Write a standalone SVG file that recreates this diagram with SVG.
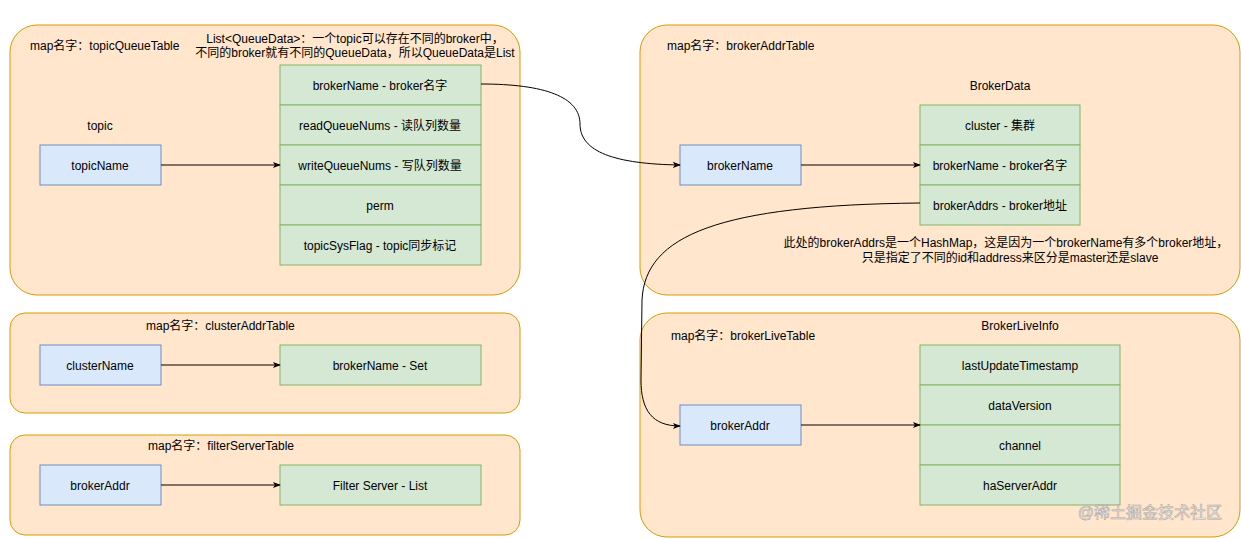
<svg xmlns="http://www.w3.org/2000/svg" width="1241" height="539" viewBox="0 0 1241 539">
<defs>
<style>
.cont{fill:#FFE6CC;stroke:#D79B00;stroke-width:1}
.key{fill:#DAE8FC;stroke:#6C8EBF;stroke-width:1}
.val{fill:#D5E8D4;stroke:#82B366;stroke-width:1}
text{font-family:"Liberation Sans","Noto Sans CJK SC",sans-serif;font-size:12px;fill:#000}
.c{text-anchor:middle}
.edge{fill:none;stroke:#000;stroke-width:1;marker-end:url(#arr)}
.wm{font-size:16px;fill:#FFFFFF;fill-opacity:0.6;stroke:#aaa;stroke-width:0.6;text-anchor:end}
</style>
<marker id="arr" viewBox="0 0 10 10" refX="9" refY="5" markerWidth="8" markerHeight="8" markerUnits="userSpaceOnUse" orient="auto">
<path d="M0,1 L10,5 L0,9 L2.5,5 Z" fill="#000"/>
</marker>
</defs>
<g id="topicQueueTable">
<rect class="cont" x="10" y="25" width="510" height="270" rx="27"/>
<text x="30" y="50">map名字：topicQueueTable</text>
<text class="c" x="355" y="43">List&lt;QueueData&gt;：一个topic可以存在不同的broker中，</text>
<text class="c" x="355" y="57">不同的broker就有不同的QueueData，所以QueueData是List</text>
<text class="c" x="100" y="130">topic</text>
<g id="topicName"><rect class="key" x="40" y="145" width="121" height="40"/><text class="c" x="100" y="170">topicName</text></g>
<g id="queueData">
<rect class="val" x="280" y="65" width="201" height="40"/><text class="c" x="380" y="90">brokerName - broker名字</text>
<rect class="val" x="280" y="105" width="201" height="40"/><text class="c" x="380" y="130">readQueueNums - 读队列数量</text>
<rect class="val" x="280" y="145" width="201" height="40"/><text class="c" x="380" y="170">writeQueueNums - 写队列数量</text>
<rect class="val" x="280" y="185" width="201" height="40"/><text class="c" x="380" y="210">perm</text>
<rect class="val" x="280" y="225" width="201" height="40"/><text class="c" x="380" y="250">topicSysFlag - topic同步标记</text>
</g>
</g>
<g id="brokerAddrTable">
<rect class="cont" x="640" y="25" width="600" height="270" rx="27"/>
<text x="667" y="50">map名字：brokerAddrTable</text>
<text class="c" x="1000" y="90">BrokerData</text>
<g id="brokerNameKey"><rect class="key" x="680" y="145" width="121" height="40"/><text class="c" x="740" y="170">brokerName</text></g>
<g id="brokerData">
<rect class="val" x="920" y="105" width="160" height="40"/><text class="c" x="1000" y="130">cluster - 集群</text>
<rect class="val" x="920" y="145" width="160" height="40"/><text class="c" x="1000" y="170">brokerName - broker名字</text>
<rect class="val" x="920" y="185" width="160" height="40"/><text class="c" x="1000" y="210">brokerAddrs - broker地址</text>
</g>
<text class="c" x="1006" y="247">此处的brokerAddrs是一个HashMap，这是因为一个brokerName有多个broker地址，</text>
<text class="c" x="1010" y="262">只是指定了不同的id和address来区分是master还是slave</text>
</g>
<g id="clusterAddrTable">
<rect class="cont" x="10" y="313" width="510" height="100" rx="15"/>
<text x="146" y="330">map名字：clusterAddrTable</text>
<g id="clusterName"><rect class="key" x="40" y="345" width="121" height="40"/><text class="c" x="100" y="370">clusterName</text></g>
<g id="brokerNameSet"><rect class="val" x="280" y="345" width="201" height="40"/><text class="c" x="380" y="370">brokerName - Set</text></g>
</g>
<g id="filterServerTable">
<rect class="cont" x="10" y="435" width="510" height="100" rx="15"/>
<text x="148" y="450">map名字：filterServerTable</text>
<g id="brokerAddrFS"><rect class="key" x="40" y="465" width="121" height="40"/><text class="c" x="100" y="490">brokerAddr</text></g>
<g id="filterServerList"><rect class="val" x="280" y="465" width="201" height="40"/><text class="c" x="380" y="490">Filter Server - List</text></g>
</g>
<g id="brokerLiveTable">
<rect class="cont" x="640" y="313" width="600" height="224" rx="27"/>
<text x="671" y="340">map名字：brokerLiveTable</text>
<text class="c" x="1020" y="330">BrokerLiveInfo</text>
<g id="brokerAddrLive"><rect class="key" x="680" y="405" width="121" height="40"/><text class="c" x="740" y="430">brokerAddr</text></g>
<g id="brokerLiveInfo">
<rect class="val" x="920" y="345" width="200" height="40"/><text class="c" x="1020" y="370">lastUpdateTimestamp</text>
<rect class="val" x="920" y="385" width="200" height="40"/><text class="c" x="1020" y="410">dataVersion</text>
<rect class="val" x="920" y="425" width="200" height="40"/><text class="c" x="1020" y="450">channel</text>
<rect class="val" x="920" y="465" width="200" height="40"/><text class="c" x="1020" y="490">haServerAddr</text>
</g>
</g>
<g id="connectors">
<path class="edge" d="M161,165 L280,165"/>
<path class="edge" d="M481,84 C545,84 580,97 580,124 C580,152 615,164 680,165"/>
<path class="edge" d="M801,165 L920,165"/>
<path class="edge" d="M920,203 C720,205 645,235 642,300 L641,380 C641,410 652,426 680,426"/>
<path class="edge" d="M161,365 L280,365"/>
<path class="edge" d="M161,485 L280,485"/>
<path class="edge" d="M801,425 L920,425"/>
</g>
<text class="wm" x="1222" y="518">@稀土掘金技术社区</text>
</svg>
